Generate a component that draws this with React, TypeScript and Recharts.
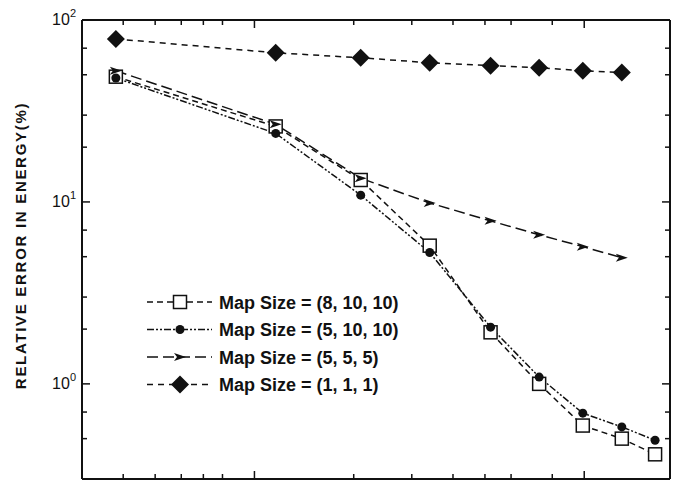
import React from "react";
import { LineChart, Line, XAxis, YAxis } from "recharts";

// x positions (no labels visible in the source)
const xValues = [3.8, 11.6, 21, 34, 52, 73, 99, 130, 164];

const map8_10_10 = [48.8, 26, 13.2, 5.75, 1.92, 1.0, 0.59, 0.5, 0.41];
const map5_10_10 = [48, 23.8, 10.9, 5.27, 2.05, 1.09, 0.69, 0.58, 0.49];
const map5_5_5 = [52.6, 26.7, 13.5, 9.87, 7.87, 6.6, 5.68, 4.94];
const map1_1_1 = [78.7, 66, 62, 58.2, 56.1, 54.7, 52.6, 51.5];

const seriesNames = [
  "Map Size = (8, 10, 10)",
  "Map Size = (5, 10, 10)",
  "Map Size = (5, 5, 5)",
  "Map Size = (1, 1, 1)",
];

const xTicks = [4, 5, 6, 7, 8, 9, 10, 20, 30, 40, 50, 60, 70, 80, 90, 100];
const xMajor = [10, 100];
const yTicks = [
  0.3, 0.4, 0.5, 0.6, 0.7, 0.8, 0.9, 1, 2, 3, 4, 5, 6, 7, 8, 9, 10, 20, 30, 40, 50, 60, 70, 80, 90, 100,
];
const yMajor: Record<number, string> = { 1: "0", 10: "1", 100: "2" };

const data = xValues.map((x, i) => ({
  x,
  a: map8_10_10[i],
  b: map5_10_10[i],
  c: map5_5_5[i],
  d: map1_1_1[i],
}));

const INK = "#111";
const FONT = "Liberation Sans, Arial, sans-serif";
const dashes = ["6 4", "7 2 2 2 2 2", "11 5", "6 5"];

const Marker = ({ kind, cx, cy }: { kind: number; cx: number; cy: number }) => {
  if (cx == null || cy == null) return null;
  if (kind === 0)
    return <rect x={cx - 6.5} y={cy - 6.5} width={13} height={13} fill="#fff" stroke={INK} strokeWidth={1.5} />;
  if (kind === 1) return <circle cx={cx} cy={cy} r={4.5} fill={INK} />;
  if (kind === 2)
    return <polygon points={`${cx - 6},${cy - 4} ${cx + 6},${cy} ${cx - 6},${cy + 4} ${cx - 3},${cy}`} fill={INK} />;
  return <polygon points={`${cx},${cy - 9} ${cx + 9},${cy} ${cx},${cy + 9} ${cx - 9},${cy}`} fill={INK} />;
};

const dotFor = (kind: number) => (p: any) => <Marker key={`${kind}-${p.index}`} kind={kind} cx={p.cx} cy={p.cy} />;

const XTickTop = (p: any) => {
  const len = xMajor.includes(p.payload.value) ? 8 : 5;
  return <line x1={p.x} x2={p.x} y1={p.y} y2={p.y + len} stroke={INK} strokeWidth={1.5} />;
};
const XTickBottom = (p: any) => {
  const len = xMajor.includes(p.payload.value) ? 8 : 5;
  return <line x1={p.x} x2={p.x} y1={p.y} y2={p.y - len} stroke={INK} strokeWidth={1.5} />;
};

const YTickLeft = (p: any) => {
  const v = p.payload.value;
  const exp = yMajor[v];
  const len = exp !== undefined ? 8 : 5;
  return (
    <g>
      <line x1={p.x} x2={p.x + len} y1={p.y} y2={p.y} stroke={INK} strokeWidth={1.5} />
      {exp !== undefined && (
        <text x={p.x - 6} y={p.y + 5} textAnchor="end" fontFamily={FONT} fontSize={16} fill={INK}>
          10
          <tspan dy={-8} fontSize={11}>
            {exp}
          </tspan>
        </text>
      )}
    </g>
  );
};
const YTickRight = (p: any) => {
  const len = yMajor[p.payload.value] !== undefined ? 8 : 5;
  return <line x1={p.x} x2={p.x - len} y1={p.y} y2={p.y} stroke={INK} strokeWidth={1.5} />;
};

// in-plot legend, overlaid on the chart
const LegendBox = () => (
  <svg width={320} height={110} style={{ position: "absolute", left: 145, top: 290 }}>
    {seriesNames.map((name, i) => {
      const y = 12 + i * 27.5;
      return (
        <g key={name}>
          <line x1={2} x2={67} y1={y} y2={y} stroke={INK} strokeWidth={1.5} strokeDasharray={dashes[i]} />
          <Marker kind={i} cx={35} cy={y} />
          <text x={74} y={y + 6.5} fontFamily={FONT} fontWeight="bold" fontSize={18} fill={INK}>
            {name}
          </text>
        </g>
      );
    })}
  </svg>
);

const YLabel = (p: any) => {
  const vb = p.viewBox;
  const cx = vb.x + 20;
  const cy = vb.y + vb.height / 2 - 4;
  return (
    <text
      x={cx}
      y={cy}
      transform={`rotate(-90 ${cx} ${cy})`}
      textAnchor="middle"
      dominantBaseline="central"
      fontFamily={FONT}
      fontWeight="bold"
      fontSize={15}
      letterSpacing={1.7}
      fill={INK}
    >
      RELATIVE ERROR IN ENERGY(%)
    </text>
  );
};

export default function App() {
  return (
    <div style={{ position: "absolute", left: 0, top: 0, width: 678, height: 480, background: "#fff" }}>
      <LineChart width={678} height={480} data={data} margin={{ top: 19, right: 0, bottom: 0, left: 0 }}>
        <XAxis
          xAxisId="top"
          orientation="top"
          dataKey="x"
          type="number"
          scale="log"
          domain={[3, 182]}
          allowDataOverflow
          ticks={xTicks}
          height={1}
          tickSize={0}
          tickMargin={0}
          tickLine={false}
          tick={XTickTop}
          axisLine={{ stroke: INK, strokeWidth: 2 }}
        />
        <XAxis
          xAxisId="bottom"
          orientation="bottom"
          dataKey="x"
          type="number"
          scale="log"
          domain={[3, 182]}
          allowDataOverflow
          ticks={xTicks}
          height={1}
          tickSize={0}
          tickMargin={0}
          tickLine={false}
          tick={XTickBottom}
          axisLine={{ stroke: INK, strokeWidth: 2 }}
        />
        <YAxis
          yAxisId="left"
          type="number"
          scale="log"
          domain={[0.3, 100]}
          allowDataOverflow
          ticks={yTicks}
          width={82}
          tickSize={0}
          tickMargin={0}
          tickLine={false}
          tick={YTickLeft}
          axisLine={{ stroke: INK, strokeWidth: 2 }}
          label={<YLabel />}
        />
        <YAxis
          yAxisId="right"
          orientation="right"
          type="number"
          scale="log"
          domain={[0.3, 100]}
          allowDataOverflow
          ticks={yTicks}
          width={8}
          tickSize={0}
          tickMargin={0}
          tickLine={false}
          tick={YTickRight}
          axisLine={{ stroke: INK, strokeWidth: 2 }}
        />
        {(["a", "b", "c", "d"] as const).map((k, i) => (
          <Line
            key={k}
            xAxisId="top"
            yAxisId="left"
            dataKey={k}
            name={seriesNames[i]}
            stroke={INK}
            strokeWidth={1.5}
            strokeDasharray={dashes[i]}
            dot={dotFor(i)}
            activeDot={false}
            isAnimationActive={false}
          />
        ))}
      </LineChart>
      <LegendBox />
    </div>
  );
}
